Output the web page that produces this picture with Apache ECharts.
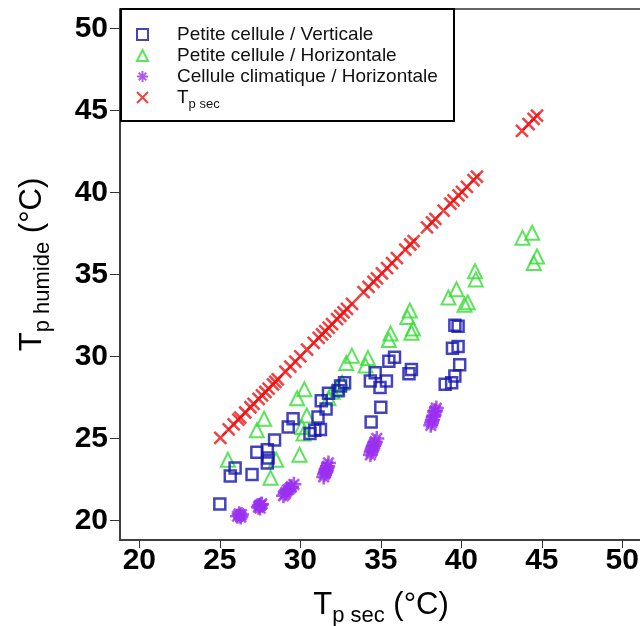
<!DOCTYPE html>
<html>
<head>
<meta charset="utf-8">
<script src="https://cdn.jsdelivr.net/npm/echarts@6/dist/echarts.min.js"></script>
<style>
html,body{margin:0;padding:0;background:#fff;}
#c{width:640px;height:626px;}
</style>
</head>
<body>
<div id="c"></div>
<script>
// ---- data ----
const tickValues = [20, 25, 30, 35, 40, 45, 50];

const verticaleX = [25.0, 25.65, 25.95, 27.0, 27.3, 27.95, 28.0, 27.95, 28.4, 29.25, 29.55, 30.6, 30.9, 31.25, 31.1, 31.6, 31.3, 31.75, 32.35, 32.5, 32.75, 34.4, 35.0, 34.35, 34.65, 34.95, 35.35, 35.5, 35.85, 36.75, 36.9, 39.0, 39.4, 39.6, 39.9, 39.45, 39.8, 39.6, 39.8];
const verticaleY = [21.0, 22.7, 23.2, 22.8, 24.15, 24.3, 23.8, 23.5, 24.9, 25.7, 26.2, 25.3, 25.5, 25.55, 26.3, 26.8, 27.3, 27.75, 27.9, 28.2, 28.4, 26.0, 26.9, 28.5, 29.0, 28.1, 28.5, 29.7, 29.95, 28.95, 29.2, 28.3, 28.4, 28.8, 29.5, 30.5, 30.6, 31.9, 31.85];

const horizX = [25.5, 27.3, 27.75, 28.15, 28.5, 29.8, 30.25, 29.95, 30.4, 30.1, 30.2, 31.75, 32.0, 32.3, 32.6, 32.85, 33.2, 34.05, 34.2, 35.5, 35.6, 36.65, 36.8, 36.9, 37.0, 39.2, 39.7, 40.2, 40.4, 40.85, 40.9, 43.8, 44.4, 44.5, 44.7];
const horizY = [23.7, 25.5, 26.2, 22.6, 23.7, 27.45, 28.0, 24.0, 26.4, 25.7, 25.3, 27.45, 27.85, 28.1, 28.4, 29.6, 30.05, 29.45, 29.9, 31.0, 31.4, 32.4, 32.8, 31.45, 31.7, 33.6, 34.1, 33.15, 33.3, 35.2, 34.7, 37.25, 37.55, 35.7, 36.1];

const climX = [26.1, 26.2, 26.25, 26.35, 26.3, 27.4, 27.5, 27.55, 27.6, 27.5, 27.45, 28.95, 29.05, 29.1, 29.2, 29.3, 29.4, 29.45, 29.6, 31.45, 31.5, 31.55, 31.6, 31.65, 31.7, 31.75, 31.6, 34.35, 34.4, 34.45, 34.55, 34.6, 34.65, 34.75, 34.5, 38.1, 38.15, 38.2, 38.25, 38.3, 38.35, 38.45, 38.4];
const climY = [20.25, 20.4, 20.3, 20.35, 20.2, 20.8, 20.9, 20.95, 21.0, 20.75, 20.9, 21.5, 21.6, 21.7, 21.85, 21.9, 22.0, 22.05, 22.2, 22.65, 22.8, 22.9, 23.1, 23.2, 23.3, 23.5, 23.0, 24.0, 24.15, 24.3, 24.55, 24.65, 24.8, 25.0, 24.45, 25.8, 25.95, 26.1, 26.3, 26.4, 26.65, 26.85, 26.7];

const tpSec = [25.03, 25.55, 25.86, 26.15, 26.27, 26.58, 26.9, 27.1, 27.41, 27.62, 27.83, 28.03, 28.3, 28.45, 28.6, 29.07, 29.38, 29.69, 30.0, 30.42, 30.83, 31.14, 31.35, 31.55, 31.76, 31.97, 32.28, 32.48, 32.69, 32.9, 33.21, 33.93, 34.24, 34.55, 34.76, 35.07, 35.39, 35.7, 36.0, 36.52, 36.83, 37.04, 37.87, 38.18, 38.39, 38.9, 39.32, 39.52, 39.83, 40.04, 40.35, 40.76, 40.97, 43.77, 44.18, 44.49, 44.7];

const names = ['Petite cellule / Verticale', 'Petite cellule / Horizontale', 'Cellule climatique / Horizontale', 'Tp sec'];

function pairs(xs, ys) { return xs.map((x, i) => [x, ys[i]]); }

const FONT = '"Liberation Sans", Arial, sans-serif';
const crossPath = 'path://M0,0L10,10M10,0L0,10';
const starPath = 'path://M0,5L10,5M5,0L5,10M1.5,1.5L8.5,8.5M8.5,1.5L1.5,8.5';

const chart = echarts.init(document.getElementById('c'), null, {renderer: 'canvas'});
const axisCommon = {
  type: 'value', min: 18.8,
  axisLine: {show: true, lineStyle: {color: '#333', width: 1.5}},
  axisTick: {show: true, customValues: tickValues, length: 8, lineStyle: {color: '#333', width: 1}},
  axisLabel: {customValues: tickValues, color: '#000', fontFamily: FONT, fontWeight: 'bold', fontSize: 30},
  splitLine: {show: false}
};
const nameRich = {
  t: {fontSize: 31, fontFamily: FONT, color: '#000', verticalAlign: 'top', lineHeight: 38},
  s: {fontSize: 22, fontFamily: FONT, color: '#000', verticalAlign: 'top', lineHeight: 38, padding: [15, 0, 0, 0]}
};
chart.setOption({
  backgroundColor: '#fff',
  animation: false,
  grid: {left: 120, top: 9, width: 530, height: 531, show: true, borderColor: '#333', borderWidth: 1.5,
         backgroundColor: 'transparent', outerBoundsMode: 'none', containLabel: false},
  xAxis: Object.assign({}, axisCommon, {
    max: 51.72,
    axisLabel: Object.assign({}, axisCommon.axisLabel, {margin: 6}),
    name: '{t|T}{s|p sec}{t| (°C)}',
    nameLocation: 'middle', nameGap: 50,
    nameTextStyle: {color: '#000', fontFamily: FONT, rich: nameRich, padding: [0, 8, 0, 0]}
  }),
  yAxis: Object.assign({}, axisCommon, {
    max: 51.2,
    axisTick: Object.assign({}, axisCommon.axisTick, {length: 10}),
    axisLabel: Object.assign({}, axisCommon.axisLabel, {margin: 12}),
    name: '{t|T}{s|p humide}{t| (°C)}',
    nameLocation: 'middle', nameGap: 65, nameRotate: 90,
    nameTextStyle: {color: '#000', fontFamily: FONT, rich: nameRich, padding: [0, 0, 0, 20]}
  }),
  legend: {
    orient: 'vertical', left: 131, top: 19, z: 10,
    itemWidth: 11, itemHeight: 11, itemGap: 0,
    data: names,
    textStyle: {fontFamily: FONT, fontSize: 19, color: '#111', padding: [0, 0, 0, 24], lineHeight: 21,
      rich: {
        t: {fontSize: 19, fontFamily: FONT, color: '#111', lineHeight: 21},
        s: {fontSize: 13, fontFamily: FONT, color: '#111', verticalAlign: 'top', padding: [11, 0, 0, 0], lineHeight: 21}
      }},
    formatter: function (n) { return n === 'Tp sec' ? '{t|T}{s|p sec}' : n; }
  },
  graphic: [{
    type: 'rect', z: 5, silent: true,
    shape: {x: 121, y: 9, width: 333, height: 112},
    style: {fill: '#fff', stroke: '#000', lineWidth: 2}
  }],
  series: [
    {name: names[3], type: 'scatter', z: 2, data: tpSec.map(v => [v, v]), symbol: crossPath, symbolSize: 12,
     itemStyle: {color: 'rgba(0,0,0,0)', borderColor: '#ee1111', borderWidth: 2.5}},
    {name: names[1], type: 'scatter', z: 3, data: pairs(horizX, horizY), symbol: 'triangle', symbolSize: 14,
     itemStyle: {color: 'rgba(0,0,0,0)', borderColor: '#33dd33', borderWidth: 2}},
    {name: names[0], type: 'scatter', z: 4, data: pairs(verticaleX, verticaleY), symbol: 'rect', symbolSize: 11,
     itemStyle: {color: 'rgba(0,0,0,0)', borderColor: '#1414b0', borderWidth: 2.5}},
    {name: names[2], type: 'scatter', z: 3, data: pairs(climX, climY), symbol: starPath, symbolSize: 15,
     itemStyle: {color: 'rgba(0,0,0,0)', borderColor: '#9b30f0', borderWidth: 2.5}}
  ]
});
</script>
</body>
</html>
